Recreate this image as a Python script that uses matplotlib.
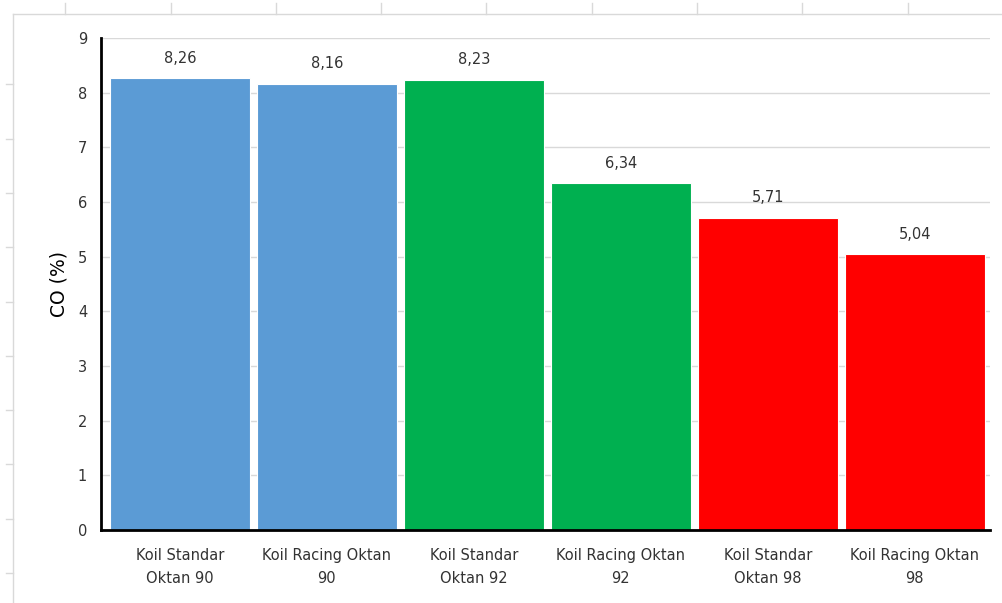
import matplotlib.pyplot as plt
from matplotlib.lines import Line2D

categories = ['Koil Standar\nOktan 90', 'Koil Racing Oktan\n90',
              'Koil Standar\nOktan 92', 'Koil Racing Oktan\n92',
              'Koil Standar\nOktan 98', 'Koil Racing Oktan\n98']
co_values = [8.26, 8.16, 8.23, 6.34, 5.71, 5.04]
bar_colors = ['#5B9BD5', '#5B9BD5', '#00B050', '#00B050', '#FF0000', '#FF0000']
yticks = list(range(0, 10))

plt.rcParams['font.family'] = ['DejaVu Sans']
TXT = '#333333'

fig = plt.figure(figsize=(10.03, 6.03), dpi=100)
ax = fig.add_axes([0.1007, 0.121, 0.886, 0.816])

# spreadsheet background lines behind the chart
fig.add_artist(Line2D([0.013, 1.0], [0.977, 0.977], color='#d9d9d9', lw=1))
fig.add_artist(Line2D([0.013, 0.013], [0.0, 0.977], color='#d9d9d9', lw=1))
for xc in [0.065, 0.17, 0.275, 0.38, 0.485, 0.59, 0.695, 0.8, 0.905]:
    fig.add_artist(Line2D([xc, xc], [0.977, 0.995], color='#d9d9d9', lw=1))
for yc in [0.05, 0.14, 0.23, 0.32, 0.41, 0.5, 0.59, 0.68, 0.77, 0.86]:
    fig.add_artist(Line2D([0.006, 0.013], [yc, yc], color='#d9d9d9', lw=1))

x = range(len(categories))
bars = ax.bar(x, co_values, width=0.952, color=bar_colors, edgecolor='white',
              linewidth=0.8, zorder=3)
for b, v in zip(bars, co_values):
    ax.annotate(f'{v:.2f}'.replace('.', ','), (b.get_x() + b.get_width() / 2, v),
                xytext=(0, 14.5), textcoords='offset points', ha='center',
                va='center', fontsize=10.5, color=TXT)

ax.set_xlim(-0.537, 5.51)
ax.set_ylim(0, 9)
ax.set_yticks(yticks)
ax.set_xticks(list(x))
ax.set_xticklabels(categories, fontsize=10.5, color=TXT, linespacing=1.65)
ax.tick_params(axis='y', length=0, pad=10, labelsize=10.5, labelcolor=TXT)
ax.tick_params(axis='x', length=0, pad=13)
ax.grid(axis='y', color='#d9d9d9', lw=1, zorder=0)
ax.set_ylabel('CO (%)', fontsize=13.5, color='black', labelpad=7)

for s in ['top', 'right']:
    ax.spines[s].set_visible(False)
ax.spines['left'].set_linewidth(2)
ax.spines['bottom'].set_linewidth(2)
ax.spines['left'].set_zorder(4)
ax.spines['bottom'].set_zorder(4)

fig.savefig('out.png', dpi=100)
